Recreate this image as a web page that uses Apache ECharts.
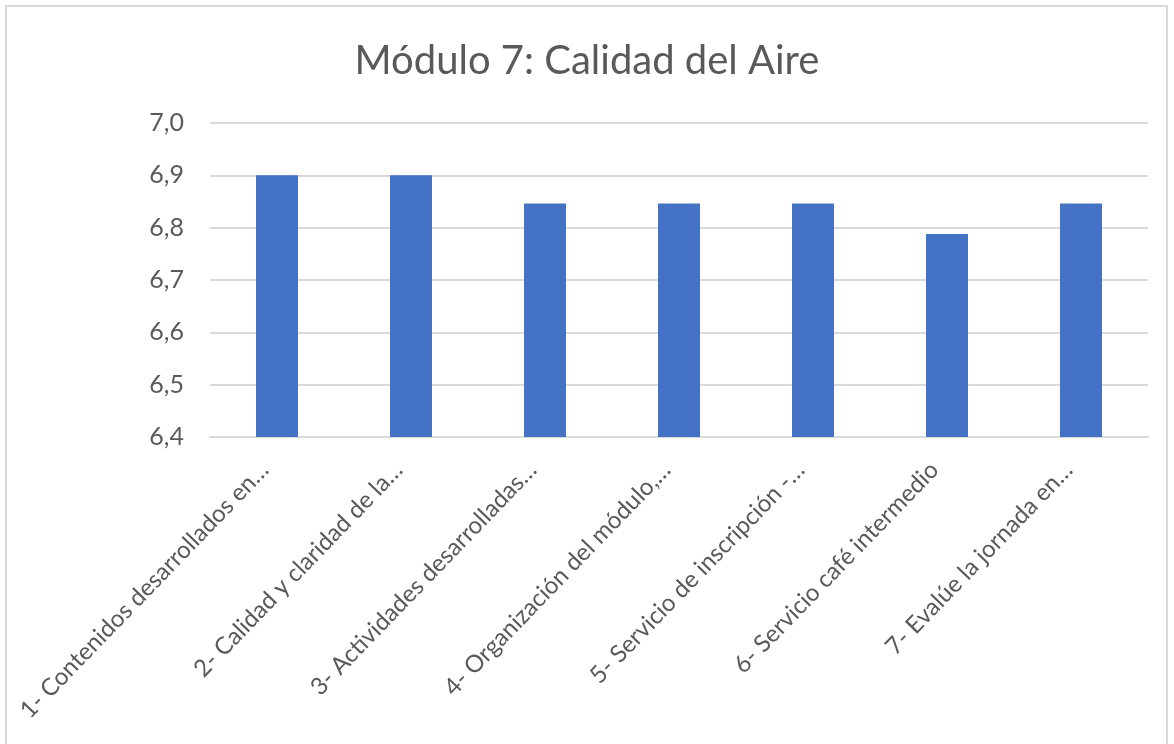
<!DOCTYPE html>
<html>
<head>
<meta charset="utf-8">
<script src="https://cdn.jsdelivr.net/npm/echarts@6/dist/echarts.min.js"></script>
<style>
  html, body { margin: 0; padding: 0; background: #fff; }
  #frame { position: absolute; left: 5px; top: 5px; width: 1163px; height: 745px; border: 2px solid #d9d9d9; box-sizing: border-box; }
  #chart { position: absolute; left: 0; top: 0; width: 1174px; height: 744px; }
</style>
</head>
<body>
<div id="frame"></div>
<div id="chart"></div>
<script>
// categorias (texto recortado como en el original)
var categorias = [
    '1- Contenidos desarrollados en…',
    '2- Calidad y claridad de la…',
    '3- Actividades desarrolladas…',
    '4- Organización del módulo,…',
    '5- Servicio de inscripción -…',
    '6- Servicio café intermedio',
    '7- Evalúe la jornada en…'
];
// promedio de cada pregunta
var valores = [6.9, 6.9, 6.846, 6.846, 6.846, 6.788, 6.846];
var ejeMin = 6.4, ejeMax = 7.0, ejeIntervalo = 0.1;

var myChart = echarts.init(document.getElementById('chart'));
var fuente = 'Lato';
var options = {
    title: {
        text: 'Módulo 7: Calidad del Aire',
        left: 'center',
        top: 36,
        textStyle: { fontFamily: fuente, fontSize: 40, fontWeight: 'normal', color: '#595959' }
    },
    grid: { left: 210, right: 26, top: 123, bottom: 307 },
    xAxis: {
        type: 'category',
        data: categorias,
        axisLine: { show: true, lineStyle: { color: '#d9d9d9', width: 2 } },
        axisTick: { show: false },
        axisLabel: {
            interval: 0,
            rotate: 46,
            margin: 16,
            fontFamily: fuente,
            fontSize: 24,
            color: '#595959',
            padding: [0, 18, 0, 0]
        }
    },
    yAxis: {
        type: 'value',
        min: ejeMin,
        max: ejeMax,
        interval: ejeIntervalo,
        axisLine: { show: false },
        axisTick: { show: false },
        splitLine: { lineStyle: { color: '#d9d9d9', width: 2 } },
        axisLabel: {
            margin: 26,
            fontFamily: fuente,
            fontSize: 25,
            color: '#595959',
            formatter: function (v) { return v.toFixed(1).replace('.', ','); }
        }
    },
    series: [{
        type: 'bar',
        data: valores,
        barWidth: 42,
        itemStyle: { color: '#4472c4' }
    }]
};
myChart.setOption(options, true);
</script>
</body>
</html>
